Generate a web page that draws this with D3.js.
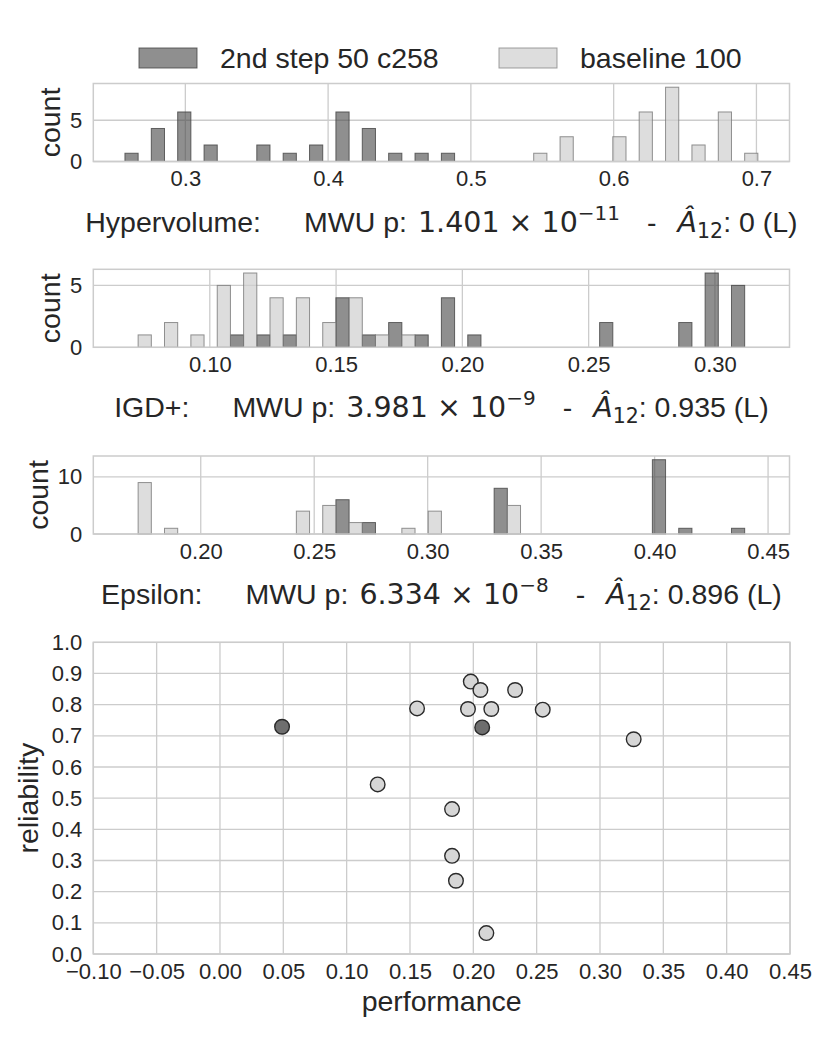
<!doctype html>
<html>
<head>
<meta charset="utf-8">
<script src="https://d3js.org/d3.v7.min.js"></script>
<style>
  body { margin: 0; background: #fff; }
  svg text { font-family: "Liberation Sans", Arial, sans-serif; fill: #262626; }
  svg .math { font-family: "DejaVu Sans", sans-serif; }
</style>
</head>
<body>
<script>

// series names (legend)
var seriesNames = ["2nd step 50 c258", "baseline 100"];

// histogram 1 : hypervolume, 24 shared bins over the pooled range
var hvRange = [0.2577, 0.7010];
var hvStep = [1,4,6,2,0,2,1,2,6,4,1,1,1,0,0,0,0,0,0,0,0,0,0,0];
var hvBase = [0,0,0,0,0,0,0,0,0,0,0,0,0,0,0,1,3,0,3,6,9,2,6,1];
var hvTicks = [0.3, 0.4, 0.5, 0.6, 0.7];
var hvCountTicks = [0, 5];

// histogram 2 : IGD+
var igdRange = [0.0664, 0.3170];
var igdStep = [0,0,0,0,1,1,1,0,4,1,2,1,4,1,0,0,0,0,2,0,0,2,6,5];
var igdBase = [1,2,1,5,6,4,4,2,4,1,1,0,0,0,0,0,0,0,0,0,0,0,0,0];
var igdTicks = [0.10, 0.15, 0.20, 0.25, 0.30];
var igdCountTicks = [0, 5];

// histogram 3 : epsilon
var epsRange = [0.1666, 0.4455];
var epsStep = [0,0,0,0,0,0,0,0,6,2,0,0,0,0,8,0,0,0,0,0,13,1,0,1];
var epsBase = [9,1,0,0,0,0,4,5,2,0,1,4,0,0,5,0,0,0,0,0,0,0,0,0];
var epsTicks = [0.20, 0.25, 0.30, 0.35, 0.40, 0.45];
var epsCountTicks = [0, 10];

// captions under each histogram
var captionNames = ["Hypervolume:", "IGD+:", "Epsilon:"];
var captionP = ["1.401 \u00d7 10", "3.981 \u00d7 10", "6.334 \u00d7 10"];
var captionExp = ["\u221211", "\u22129", "\u22128"];
var captionA12 = ["0", "0.935", "0.896"];

// scatter : performance vs reliability
var stepPerf = [0.049, 0.207];
var stepRel  = [0.729, 0.727];
var basePerf = [0.198, 0.2056, 0.233, 0.1556, 0.1958, 0.2142, 0.2548, 0.3266, 0.1245, 0.1832, 0.1832, 0.1863, 0.2103];
var baseRel  = [0.874, 0.847, 0.847, 0.788, 0.786, 0.786, 0.784, 0.689, 0.544, 0.465, 0.315, 0.235, 0.067];
var perfTicks = [-0.10, -0.05, 0.00, 0.05, 0.10, 0.15, 0.20, 0.25, 0.30, 0.35, 0.40, 0.45];
var relTicks = [0.0, 0.1, 0.2, 0.3, 0.4, 0.5, 0.6, 0.7, 0.8, 0.9, 1.0];

// look
var darkFill = "#444", lightFill = "#cfcfcf";
var gridColor = "#cccccc";
var left = 93.3, right = 789.5;

var svg = d3.select("body").append("svg")
    .attr("width", 830)
    .attr("height", 1038);

// tick label styling (d3 axis sets its own font on the group)
function styleTicks(a) {
  a.select(".domain").remove();
  a.attr("font-size", null).attr("font-family", null);
  a.selectAll(".tick text")
      .attr("fill", "#262626")
      .style("font-size", "22px")
      .style("font-family", "'Liberation Sans', Arial, sans-serif");
}

// legend
[darkFill, lightFill].forEach(function(c, i) {
  var lx = [139, 499][i];
  svg.append("rect")
      .attr("x", lx).attr("y", 48).attr("width", 58).attr("height", 20)
      .attr("fill", c).attr("fill-opacity", i == 0 ? 0.6 : 0.7)
      .attr("stroke", i == 0 ? "#444" : "#888").attr("stroke-opacity", 0.8);
  svg.append("text")
      .attr("x", lx + 81).attr("y", 68)
      .style("font-size", "28.5px")
      .text(seriesNames[i]);
});

// draws one histogram panel
function histogram(top, range, step, base, xTicks, yTicks, fmt, idx, labelX) {
  var h = 78;
  var n = step.length;
  var w = (range[1] - range[0]) / n;
  var pad = (range[1] - range[0]) * 0.05;
  var x = d3.scaleLinear().domain([range[0] - pad, range[1] + pad]).range([left, right]);
  var y = d3.scaleLinear().domain([0, d3.max(step.concat(base)) * 1.05]).range([top + h, top]);

  var g = svg.append("g");

  // grid
  g.selectAll(".gx").data(xTicks).enter().append("line")
      .attr("x1", function(d) { return x(d); }).attr("x2", function(d) { return x(d); })
      .attr("y1", top).attr("y2", top + h)
      .attr("stroke", gridColor).attr("stroke-width", 1.3);
  g.selectAll(".gy").data(yTicks).enter().append("line")
      .attr("y1", function(d) { return y(d); }).attr("y2", function(d) { return y(d); })
      .attr("x1", left).attr("x2", right)
      .attr("stroke", gridColor).attr("stroke-width", 1.3);

  // bars, dark in the left half of each bin, light in the right half
  var bins = d3.range(n).map(function(i) {
    return {x0: range[0] + i * w, step: step[i], base: base[i]};
  });
  g.selectAll(".bs").data(bins.filter(function(d) { return d.step > 0; })).enter().append("rect")
      .attr("x", function(d) { return x(d.x0); })
      .attr("width", function(d) { return x(d.x0 + w / 2) - x(d.x0); })
      .attr("y", function(d) { return y(d.step); })
      .attr("height", function(d) { return y(0) - y(d.step); })
      .attr("fill", darkFill).attr("fill-opacity", 0.6)
      .attr("stroke", "#444").attr("stroke-opacity", 0.8).attr("stroke-width", 1);
  g.selectAll(".bb").data(bins.filter(function(d) { return d.base > 0; })).enter().append("rect")
      .attr("x", function(d) { return x(d.x0 + w / 2); })
      .attr("width", function(d) { return x(d.x0 + w) - x(d.x0 + w / 2); })
      .attr("y", function(d) { return y(d.base); })
      .attr("height", function(d) { return y(0) - y(d.base); })
      .attr("fill", lightFill).attr("fill-opacity", 0.7)
      .attr("stroke", "#777").attr("stroke-opacity", 0.8).attr("stroke-width", 1);

  // frame
  g.append("rect")
      .attr("x", left).attr("y", top).attr("width", right - left).attr("height", h)
      .attr("fill", "none").attr("stroke", gridColor).attr("stroke-width", 1.5);

  // axes
  g.append("g")
      .attr("transform", "translate(0," + (top + h) + ")")
      .call(d3.axisBottom(x).tickValues(xTicks).tickFormat(d3.format(fmt)).tickSize(0).tickPadding(9))
      .call(styleTicks);
  g.append("g")
      .attr("transform", "translate(" + left + ",0)")
      .call(d3.axisLeft(y).tickValues(yTicks).tickFormat(d3.format("d")).tickSize(0).tickPadding(11))
      .call(styleTicks);

  g.append("text")
      .attr("transform", "translate(" + labelX + "," + (top + h / 2) + ") rotate(-90)")
      .attr("text-anchor", "middle")
      .style("font-size", "28.5px")
      .text("count");

  // caption with MWU p-value and A12
  var t = g.append("text")
      .attr("x", (left + right) / 2)
      .attr("y", top + h + 70)
      .attr("text-anchor", "middle")
      .style("font-size", "28.5px");
  t.append("tspan").text(captionNames[idx]);
  t.append("tspan").attr("dx", 43).text("MWU p:");
  t.append("tspan").attr("dx", 11).attr("class", "math").text(captionP[idx]);
  t.append("tspan").attr("class", "math").attr("dy", -12).style("font-size", "20px").text(captionExp[idx]);
  t.append("tspan").attr("dy", 12).attr("dx", 27).text("-");
  t.append("tspan").attr("dx", 21).attr("class", "math").style("font-style", "italic").text("\u00c2");
  t.append("tspan").attr("class", "math").attr("dy", 6).style("font-size", "20.5px").text("12");
  t.append("tspan").attr("dy", -6).text(": " + captionA12[idx] + " (L)");
}

histogram(83.5, hvRange, hvStep, hvBase, hvTicks, hvCountTicks, ".1f", 0, 60);
histogram(269.3, igdRange, igdStep, igdBase, igdTicks, igdCountTicks, ".2f", 1, 60);
histogram(456, epsRange, epsStep, epsBase, epsTicks, epsCountTicks, ".2f", 2, 48);

// scatter
var sTop = 642.3, sBottom = 954, sRight = 790;
var xs = d3.scaleLinear().domain([-0.10, 0.45]).range([left, sRight]);
var ys = d3.scaleLinear().domain([0, 1]).range([sBottom, sTop]);
var sg = svg.append("g");

sg.selectAll(".gx").data(perfTicks).enter().append("line")
    .attr("x1", function(d) { return xs(d); }).attr("x2", function(d) { return xs(d); })
    .attr("y1", sTop).attr("y2", sBottom)
    .attr("stroke", gridColor).attr("stroke-width", 1.3);
sg.selectAll(".gy").data(relTicks).enter().append("line")
    .attr("y1", function(d) { return ys(d); }).attr("y2", function(d) { return ys(d); })
    .attr("x1", left).attr("x2", sRight)
    .attr("stroke", gridColor).attr("stroke-width", 1.3);
sg.append("rect")
    .attr("x", left).attr("y", sTop).attr("width", sRight - left).attr("height", sBottom - sTop)
    .attr("fill", "none").attr("stroke", gridColor).attr("stroke-width", 1.5);

sg.selectAll(".ps").data(d3.range(stepPerf.length)).enter().append("circle")
    .attr("cx", function(i) { return xs(stepPerf[i]); })
    .attr("cy", function(i) { return ys(stepRel[i]); })
    .attr("r", 7.3)
    .attr("fill", "#6e6e6e").attr("stroke", "#2a2a2a").attr("stroke-width", 1.4);
sg.selectAll(".pb").data(d3.range(basePerf.length)).enter().append("circle")
    .attr("cx", function(i) { return xs(basePerf[i]); })
    .attr("cy", function(i) { return ys(baseRel[i]); })
    .attr("r", 7.3)
    .attr("fill", "#d6d6d6").attr("stroke", "#2a2a2a").attr("stroke-width", 1.4);

sg.append("g")
    .attr("transform", "translate(0," + sBottom + ")")
    .call(d3.axisBottom(xs).tickValues(perfTicks).tickFormat(d3.format(".2f")).tickSize(0).tickPadding(9))
    .call(styleTicks);
sg.append("g")
    .attr("transform", "translate(" + left + ",0)")
    .call(d3.axisLeft(ys).tickValues(relTicks).tickFormat(d3.format(".1f")).tickSize(0).tickPadding(11))
    .call(styleTicks);

sg.append("text")
    .attr("x", (left + sRight) / 2).attr("y", 1011)
    .attr("text-anchor", "middle")
    .style("font-size", "28.5px")
    .text("performance");
sg.append("text")
    .attr("transform", "translate(38," + ((sTop + sBottom) / 2) + ") rotate(-90)")
    .attr("text-anchor", "middle")
    .style("font-size", "28.5px")
    .text("reliability");

</script>
</body>
</html>
